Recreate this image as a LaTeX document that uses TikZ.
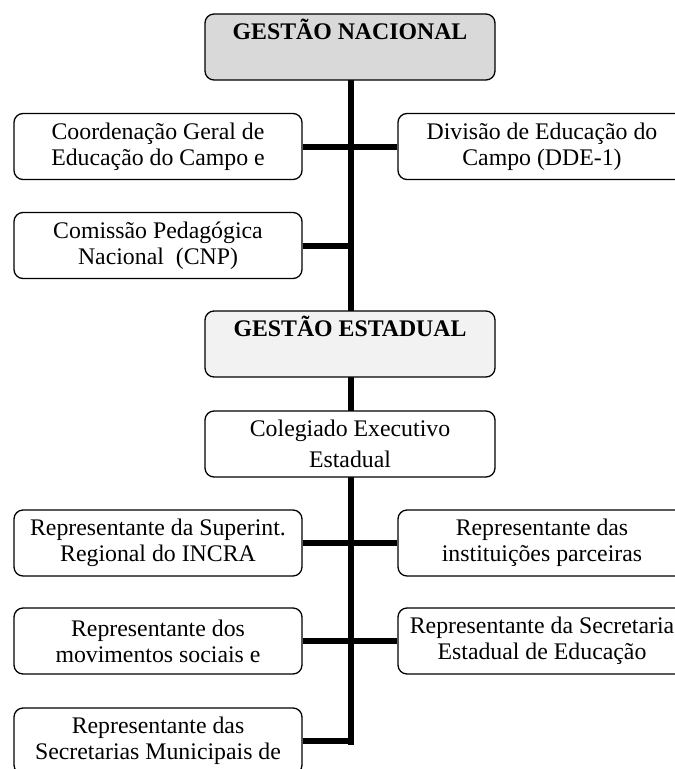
\documentclass[tikz,border=0pt]{standalone}
\usepackage{fontspec}
\setmainfont{Liberation Serif}
\begin{document}
\begin{tikzpicture}[x=1pt,y=-1pt,
  box/.style={draw=black, line width=1.3pt, rounded corners=9pt, fill=white,
    minimum width=288pt, minimum height=66pt, align=center, inner sep=0pt,
    font=\fontsize{23.8}{26}\selectfont},
  head/.style={box, minimum width=290pt, font=\fontsize{23.8}{26}\selectfont\bfseries},
  conn/.style={line width=6pt, line join=miter}]
\useasboundingbox (0,0) rectangle (675,769);
% connectors (drawn first, boxes on top)
\coordinate (top) at (351,80);
\coordinate (end) at (351,741);
\draw[conn] (top) -- (351,745);
% header boxes
\node[head, fill={rgb,255:red,217;green,217;blue,217}] (gn) at (350,47) {GESTÃO NACIONAL\\[2pt]\strut};
\node[head, fill={rgb,255:red,242;green,242;blue,242}] (ge) at (350,344) {GESTÃO ESTADUAL\\[2pt]\strut};
\node[box, minimum width=290pt, font=\fontsize{23.8}{31}\selectfont] (col) at (350,444) {Colegiado Executivo\\Estadual};
% national level
\node[box] (coord) at (158,146.5) {Coordenação Geral de\\Educação do Campo e};
\node[box] (div) at (542,146.5) {Divisão de Educação do\\Campo (DDE-1)};
\node[box] (cnp) at (158,245.5) {Comissão Pedagógica\\Nacional\ \ (CNP)};
% state level
\node[box] (sup) at (158,543) {Representante da Superint.\\Regional do INCRA};
\node[box] (inst) at (542,543) {Representante das\\instituições parceiras};
\node[box] (mov) at (158,641) {Representante dos\\movimentos sociais e};
\node[box] (see) at (542,641) {Representante da Secretaria\\Estadual de Educação};
\node[box] (mun) at (158,741) {Representante das\\Secretarias Municipais de};
% horizontal connectors
\draw[conn] (coord.east) -- (div.west);
\draw[conn] (cnp.east) -- (cnp.east -| top);
\draw[conn] (sup.east) -- (inst.west);
\draw[conn] (mov.east) -- (see.west);
\draw[conn] (mun.east) -- (end);
\end{tikzpicture}
\end{document}
